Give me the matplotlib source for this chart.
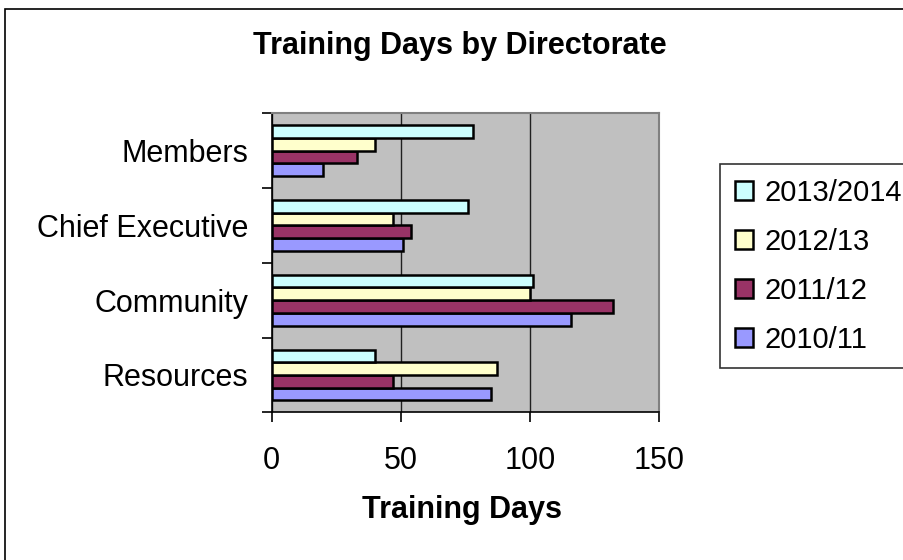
import numpy as np
import matplotlib
matplotlib.use("Agg")
import matplotlib.pyplot as plt
from matplotlib.patches import Rectangle

plt.rcParams['font.family'] = ['Liberation Sans', 'DejaVu Sans']

# data
directorates = ['Resources', 'Community', 'Chief Executive', 'Members']
years = ['2010/11', '2011/12', '2012/13', '2013/2014']
days_2010 = [85, 116, 51, 20]
days_2011 = [47, 132, 54, 33]
days_2012 = [87, 100, 47, 40]
days_2013 = [40, 101, 76, 78]
colours = ['#9999FF', '#993366', '#FFFFCC', '#CCFFFF']

series = [days_2010, days_2011, days_2012, days_2013]

fig = plt.figure(figsize=(9.04, 5.6), dpi=100)
fig.patch.set_facecolor('white')

# outer chart border (runs off the right and bottom edge like the original)
fig.patches.append(Rectangle((5/904, -0.05), 1.0, 1 - 9/560 + 0.05,
                             transform=fig.transFigure, fill=False,
                             edgecolor='black', linewidth=1.2))

ax = fig.add_axes([271.7/904, 1 - 412.3/560, (659.3 - 271.7)/904, (412.3 - 113.3)/560])
ax.set_facecolor('#C0C0C0')

y = np.arange(len(directorates))
w = 0.17
bars = []
for j, vals in enumerate(series):
    b = ax.barh(y + (j - 1.5) * w, vals, height=w, color=colours[j],
                edgecolor='black', linewidth=1.8, label=years[j], zorder=3)
    bars.append(b)

ax.set_xlim(0, 150)
ax.set_ylim(-0.5, 3.5)
ax.set_xticks([0, 50, 100, 150])
ax.xaxis.grid(True, color='#202020', linewidth=1.0, zorder=1)
ax.set_axisbelow(True)

# category ticks at boundaries, labels at centres
ax.set_yticks(np.arange(-0.5, 4, 1))
ax.set_yticklabels([])
ax.set_yticks(y, minor=True)
ax.set_yticklabels(directorates, minor=True)
ax.tick_params(axis='y', which='major', direction='out', length=7, width=1.2)
ax.tick_params(axis='y', which='minor', length=0, pad=17, labelsize=22)
ax.tick_params(axis='x', direction='out', length=7, width=1.2, pad=17, labelsize=22)

for s in ['top', 'right']:
    ax.spines[s].set_color('#808080')
    ax.spines[s].set_linewidth(1.5)
for s in ['left', 'bottom']:
    ax.spines[s].set_color('black')
    ax.spines[s].set_linewidth(1.2)

fig.text(460/904, 1 - 46/560, 'Training Days by Directorate', ha='center', va='center',
         fontsize=22, fontweight='bold')
fig.text(462/904, 1 - 510/560, 'Training Days', ha='center', va='center',
         fontsize=22, fontweight='bold')

leg = fig.legend(handles=bars[::-1], labels=years[::-1], loc='upper left',
                 bbox_to_anchor=(720/904, 1 - 164/560), fontsize=21,
                 handlelength=0.62, handleheight=0.62, handletextpad=0.4,
                 labelspacing=0.72, borderpad=0.5, borderaxespad=0,
                 fancybox=False, frameon=True)
leg.get_frame().set_edgecolor('black')
leg.get_frame().set_linewidth(1.2)

fig.savefig('out.png', dpi=100)
